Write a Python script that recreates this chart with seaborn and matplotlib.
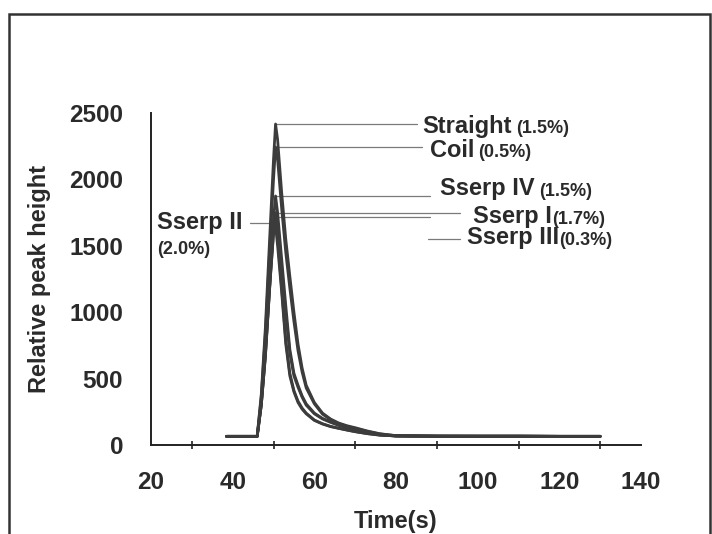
import numpy as np
import pandas as pd
import matplotlib
matplotlib.use("Agg")
import matplotlib.pyplot as plt
from matplotlib.patches import Rectangle
import seaborn as sns

# time axis (s) shared by all traces
time = [38.5, 46, 47, 48, 49, 50, 50.5, 51, 52, 53, 54, 55, 56, 57, 58,
        60, 62, 64, 66, 68, 70, 73, 76, 80, 90, 100, 110, 120, 130]

# relative peak height for each column type
straight = [65, 65, 380, 880, 1520, 2150, 2417, 2300, 1900, 1550, 1270, 1000, 760, 580, 450,
            320, 240, 195, 165, 145, 130, 105, 85, 70, 67, 66, 66, 65, 65]
coil = [65, 65, 360, 830, 1430, 2000, 2244, 2150, 1780, 1450, 1180, 930, 710, 550, 430,
        310, 232, 190, 160, 140, 126, 102, 83, 70, 67, 66, 66, 65, 65]
sserp_iv = [65, 65, 320, 720, 1250, 1700, 1875, 1750, 1400, 1050, 720, 540, 450, 370, 310,
            240, 200, 175, 150, 132, 118, 95, 78, 68, 66, 66, 66, 65, 65]
sserp_i = [65, 65, 300, 680, 1170, 1600, 1750, 1640, 1320, 990, 690, 520, 435, 360, 300,
           235, 196, 170, 147, 130, 116, 94, 77, 68, 66, 66, 66, 65, 65]
sserp_iii = [65, 65, 300, 670, 1160, 1590, 1720, 1560, 1180, 790, 540, 410, 330, 278, 240,
             188, 160, 140, 126, 113, 101, 86, 75, 68, 66, 66, 66, 65, 65]
sserp_ii = [65, 65, 300, 660, 1150, 1690, 1650, 1500, 1150, 760, 520, 400, 320, 270, 235,
            185, 158, 138, 125, 112, 100, 85, 74, 68, 66, 66, 66, 65, 65]

names = ["Straight", "Coil", "Sserp IV", "Sserp I", "Sserp III", "Sserp II"]
pcts = ["(1.5%)", "(0.5%)", "(1.5%)", "(1.7%)", "(0.3%)", "(2.0%)"]
series = [straight, coil, sserp_iv, sserp_i, sserp_iii, sserp_ii]

# label text anchors (data units): left edge (right edge for Sserp II), centre height
label_x = [86.4, 88.3, 90.8, 98.9, 97.4, 42.5]
label_y = [2402, 2221, 1928, 1717, 1559, 1672]

# leader lines: height, start, end (data units); None start = from the trace peak
lead_y = [2417, 2244, 1875, 1747, 1717, 1551, 1672]
lead_x0 = [None, None, None, None, None, 87.8, 44.2]
lead_x1 = [85.1, 86.4, 88.3, 95.7, 88.3, 95.7, 50.3]

df = pd.concat([pd.DataFrame({"time": time, "height": s, "column": n})
                for n, s in zip(names, series)], ignore_index=True)

sns.set_theme(style="white")
plt.rcParams["font.family"] = ["Liberation Sans", "DejaVu Sans"]
plt.rcParams["font.weight"] = "bold"

fig = plt.figure(figsize=(7.12, 5.34), dpi=100)
ax = fig.add_axes([0.2121, 0.1667, 0.6882, 0.6217])

sns.lineplot(data=df, x="time", y="height", units="column", estimator=None,
             color="#3c3c3c", linewidth=2.0, ax=ax, zorder=3, legend=False)

peak_t = time[int(np.argmax(straight))]
for y, x0, x1 in zip(lead_y, lead_x0, lead_x1):
    ax.plot([peak_t if x0 is None else x0, x1], [y, y], color="#7a7a7a", lw=0.9, zorder=2)

txt_col = "#2a2a2a"
for i, n in enumerate(names):
    ha = "right" if n == "Sserp II" else "left"
    t = ax.text(label_x[i], label_y[i], n, ha=ha, va="center", fontsize=17,
                fontweight="bold", color=txt_col)
    if n == "Sserp II":
        ax.annotate(pcts[i], xy=(0, 0), xycoords=t, xytext=(0, -5),
                    textcoords="offset points", ha="left", va="top",
                    fontsize=13, fontweight="bold", color=txt_col)
    else:
        gap = 0 if n in ("Sserp I", "Sserp III") else 3
        ax.annotate(pcts[i], xy=(1, 0.5), xycoords=t, xytext=(gap, -1.5),
                    textcoords="offset points", ha="left", va="center",
                    fontsize=13, fontweight="bold", color=txt_col)

ax.set_xlim(20, 140)
ax.set_ylim(0, 2500)
ax.set_xticks(np.arange(20, 141, 20))
ax.set_xticks(np.arange(30, 140, 20), minor=True)
ax.set_yticks(np.arange(0, 2501, 500))
ax.tick_params(axis="both", which="both", direction="inout", length=6, width=1.2,
               color="#222222", labelsize=17.5, labelcolor=txt_col)
ax.tick_params(axis="x", which="major", pad=16)
ax.tick_params(axis="y", which="major", pad=17)
ax.tick_params(axis="x", which="minor", bottom=True)
for lab in ax.get_xticklabels() + ax.get_yticklabels():
    lab.set_fontweight("bold")

sns.despine(ax=ax)
for sp in ("left", "bottom"):
    ax.spines[sp].set_color("#222222")
    ax.spines[sp].set_linewidth(1.4)

ax.set_xlabel("Time(s)", fontsize=17, fontweight="bold", color=txt_col)
ax.set_ylabel("Relative peak height", fontsize=17, fontweight="bold", color=txt_col)
ax.xaxis.set_label_coords(0.5, -0.195)
ax.yaxis.set_label_coords(-0.205, 0.5)

# scanned frame around the figure
fig.patches.append(Rectangle((9 / 712, -0.1), 701 / 712, 1.0738, fill=False,
                             edgecolor="#333333", linewidth=1.8,
                             transform=fig.transFigure, figure=fig))

fig.savefig("out.png", dpi=100)
